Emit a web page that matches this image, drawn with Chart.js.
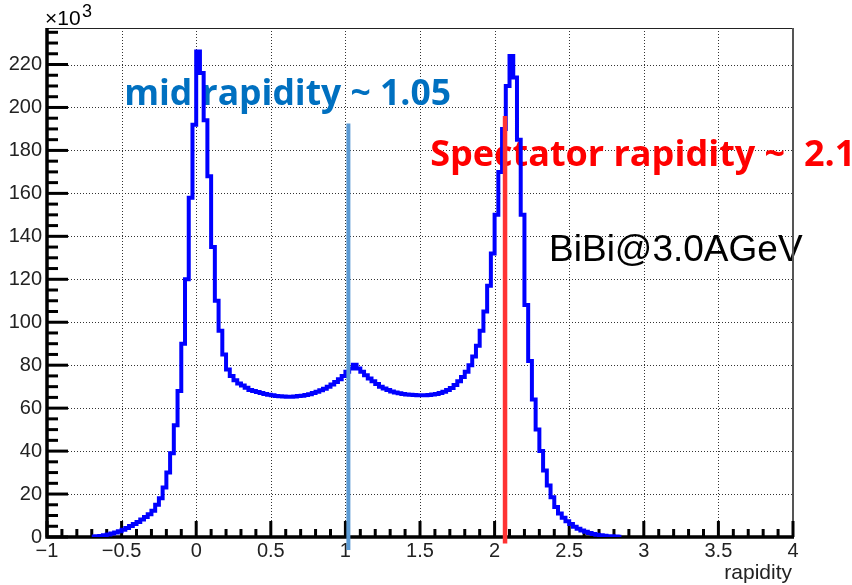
<!DOCTYPE html>
<html>
<head>
<meta charset="utf-8">
<script src="https://cdn.jsdelivr.net/npm/chart.js@4.4.1/dist/chart.umd.min.js"></script>
<style>
  html, body { margin: 0; padding: 0; background: #fff; }
  canvas { display: block; }
</style>
</head>
<body>
<canvas id="rapidityChart" width="852" height="585"></canvas>
<script>
// Histograma de rapidez, cuentas en unidades de 10^3
var binStart = -0.7;
var binWidth = 0.025;
var counts = [
  0.2, 0.3, 0.5, 0.8, 1.2, 1.6, 2.1, 2.7, 3.4, 4.2,
  5.1, 6.0, 7.0, 8.1, 9.3, 10.6, 12.2, 15, 18, 23,
  30, 39, 52, 68, 90, 120, 158, 192, 226, 216,
  194, 168, 135, 110, 96, 85, 78, 75, 73, 71.5,
  70.5, 69.5, 68.5, 68, 67.5, 67, 66.6, 66.2, 66, 65.7,
  65.5, 65.4, 65.3, 65.3, 65.4, 65.6, 65.8, 66.1, 66.5, 67,
  67.6, 68.3, 69, 70, 71, 72.2, 73.5, 75, 77, 78.5,
  80.2, 78.5, 77, 75.3, 73.8, 72.5, 71.2, 70, 69.2, 68.5,
  67.8, 67.3, 66.9, 66.6, 66.4, 66.2, 66.1, 66, 66, 66,
  66.1, 66.3, 66.6, 67, 67.6, 68.4, 69.4, 70.8, 72.5, 74.5,
  77, 80, 84, 89, 96, 105, 117, 132, 150, 170,
  190, 210, 224, 214, 185, 150, 108, 82, 64, 50,
  40, 31, 24, 18.5, 14, 11, 9, 7.3, 6, 4.8,
  3.8, 3.0, 2.4, 1.9, 1.4, 1.1, 0.8, 0.6, 0.4, 0.3,
  0.2, 0.1
];

// Ejes
var xTicks = [-1, -0.5, 0, 0.5, 1, 1.5, 2, 2.5, 3, 3.5, 4];
var yTicks = [0, 20, 40, 60, 80, 100, 120, 140, 160, 180, 200, 220];
var xMinorStep = 0.1;
var yMinorStep = 5;
var xMin = -1, xMax = 4, yMin = 0, yMax = 237;

// Lineas verticales (rapidez media y de espectador)
var midLineX = [1.02, 1.02];
var midLineY = [-6, 192.5];
var spectatorLineX = [2.07, 2.07];
var spectatorLineY = [-3, 196];

// Textos
var midText = "mid rapidity ~ 1.05";
var spectatorText = "Spectator rapidity ~  2.1";
var systemText = "BiBi@3.0AGeV";
var xTitle = "rapidity";

var histData = [];
for (var i = 0; i < counts.length; i++) {
  histData.push({ x: binStart + i * binWidth, y: counts[i] });
}
// cerrar el ultimo bin
histData.push({ x: binStart + counts.length * binWidth, y: counts[counts.length - 1] });

function linePoints(xs, ys) {
  var pts = [];
  for (var i = 0; i < xs.length; i++) pts.push({ x: xs[i], y: ys[i] });
  return pts;
}

function minusSign(v) {
  return String(v).replace("-", "\u2212");
}

var font = "'Liberation Sans', Arial, sans-serif";
var boldFont = "'Open Sans', Lato, sans-serif";

// Dibuja rejilla punteada, marco, ticks y textos (estilo ROOT)
var rootFrame = {
  id: "rootFrame",
  beforeDatasetsDraw: function (chart) {
    var ctx = chart.ctx;
    var xs = chart.scales.x;
    var ys = chart.scales.y;
    var area = chart.chartArea;
    ctx.save();

    // rejilla
    ctx.strokeStyle = "#333";
    ctx.lineWidth = 1;
    ctx.setLineDash([1, 2]);
    xTicks.forEach(function (v) {
      if (v <= xMin || v >= xMax) return;
      var px = Math.round(xs.getPixelForValue(v)) + 0.5;
      ctx.beginPath();
      ctx.moveTo(px, area.top);
      ctx.lineTo(px, area.bottom);
      ctx.stroke();
    });
    yTicks.forEach(function (v) {
      if (v <= yMin) return;
      var py = Math.round(ys.getPixelForValue(v)) + 0.5;
      ctx.beginPath();
      ctx.moveTo(area.left, py);
      ctx.lineTo(area.right, py);
      ctx.stroke();
    });
    ctx.setLineDash([]);

    // textos de anotacion
    ctx.textBaseline = "alphabetic";
    ctx.textAlign = "left";
    ctx.font = "bold 35.5px " + boldFont;
    ctx.fillStyle = "#0070c0";
    ctx.fillText(midText, xs.getPixelForValue(-0.483), ys.getPixelForValue(201));
    ctx.font = "bold 36px " + boldFont;
    ctx.fillStyle = "#ff0000";
    ctx.fillText(spectatorText, xs.getPixelForValue(1.568), ys.getPixelForValue(172.7));
    ctx.font = "37px " + font;
    ctx.fillStyle = "#000";
    ctx.fillText(systemText, xs.getPixelForValue(2.365), ys.getPixelForValue(128.3));

    // marco fino arriba y a la derecha
    ctx.strokeStyle = "#222";
    ctx.lineWidth = 1;
    ctx.beginPath();
    ctx.moveTo(area.left, area.top + 0.5);
    ctx.lineTo(area.right, area.top + 0.5);
    ctx.stroke();
    ctx.strokeStyle = "#555";
    ctx.lineWidth = 2;
    ctx.beginPath();
    ctx.moveTo(area.right, area.top);
    ctx.lineTo(area.right, area.bottom);
    ctx.stroke();

    // ejes gruesos
    ctx.strokeStyle = "#000";
    ctx.lineWidth = 3.5;
    ctx.beginPath();
    ctx.moveTo(area.left, area.top);
    ctx.lineTo(area.left, area.bottom);
    ctx.lineTo(area.right + 1, area.bottom);
    ctx.stroke();

    // ticks hacia adentro
    ctx.lineWidth = 3;
    var nx = Math.round((xMax - xMin) / xMinorStep);
    for (var k = 0; k <= nx; k++) {
      var v = xMin + k * xMinorStep;
      var major = Math.abs(v * 2 - Math.round(v * 2)) < 1e-6;
      var px = xs.getPixelForValue(v);
      ctx.beginPath();
      ctx.moveTo(px, area.bottom);
      ctx.lineTo(px, area.bottom - (major ? 16 : 8));
      ctx.stroke();
    }
    for (var yv = yMin; yv <= yMax; yv += yMinorStep) {
      var py = ys.getPixelForValue(yv);
      var majorY = yv % 20 === 0;
      ctx.beginPath();
      ctx.moveTo(area.left, py);
      ctx.lineTo(area.left + (majorY ? 21 : 11), py);
      ctx.stroke();
    }

    // x10^3 y titulo del eje
    ctx.fillStyle = "#000";
    ctx.font = "21px " + font;
    ctx.fillText("\u00d710", area.left - 2, 25);
    ctx.font = "18px " + font;
    ctx.fillText("3", area.left + 35, 17);
    ctx.font = "21px " + font;
    ctx.textAlign = "right";
    ctx.fillStyle = "#222";
    ctx.fillText(xTitle, area.right - 1, 579);

    ctx.restore();
  }
};

new Chart(document.getElementById("rapidityChart"), {
  type: "line",
  data: {
    datasets: [
      {
        label: "mid",
        data: linePoints(midLineX, midLineY),
        borderColor: "#5b9bd5",
        borderWidth: 4,
        pointRadius: 0,
        clip: false,
        order: 0
      },
      {
        label: "spectator",
        data: linePoints(spectatorLineX, spectatorLineY),
        borderColor: "#ff3333",
        borderWidth: 4.5,
        pointRadius: 0,
        clip: false,
        order: 1
      },
      {
        label: "rapidity",
        data: histData,
        borderColor: "#0000ff",
        borderWidth: 4,
        pointRadius: 0,
        stepped: true,
        fill: false,
        order: 2
      }
    ]
  },
  options: {
    responsive: false,
    animation: false,
    devicePixelRatio: 1,
    layout: { padding: { top: 28, right: 59, left: 0, bottom: 0 } },
    plugins: { legend: { display: false }, tooltip: { enabled: false } },
    scales: {
      x: {
        type: "linear",
        min: xMin,
        max: xMax,
        grid: { display: false, drawTicks: false },
        border: { display: false },
        afterFit: function (scale) { scale.height = 48; },
        afterBuildTicks: function (scale) {
          scale.ticks = xTicks.map(function (v) { return { value: v }; });
        },
        ticks: {
          padding: 2,
          maxRotation: 0,
          autoSkip: false,
          color: "#222",
          font: { family: font, size: 20 },
          callback: function (v) { return minusSign(v); }
        }
      },
      y: {
        type: "linear",
        min: yMin,
        max: yMax,
        grid: { display: false, drawTicks: false },
        border: { display: false },
        afterFit: function (scale) { scale.width = 47; },
        afterBuildTicks: function (scale) {
          scale.ticks = yTicks.map(function (v) { return { value: v }; });
        },
        ticks: {
          padding: 5,
          autoSkip: false,
          color: "#222",
          font: { family: font, size: 20 },
          callback: function (v) { return String(v); }
        }
      }
    }
  },
  plugins: [rootFrame]
});
</script>
</body>
</html>
